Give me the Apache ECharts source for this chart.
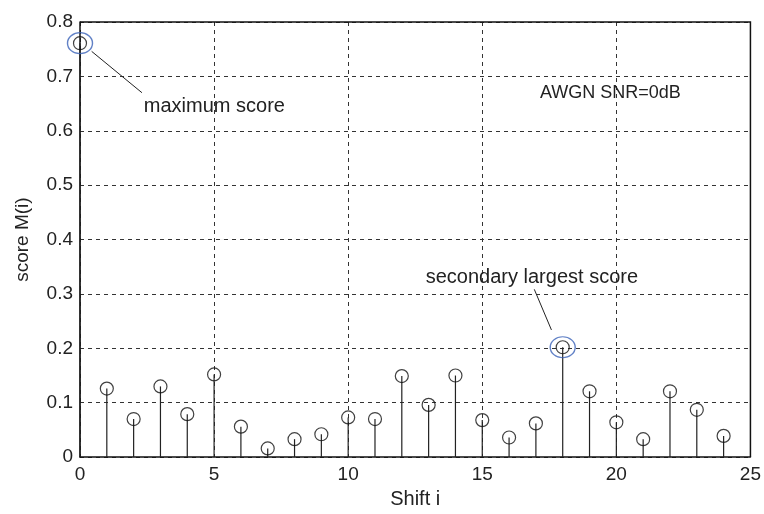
<!DOCTYPE html>
<html>
<head>
<meta charset="utf-8">
<script src="https://cdn.jsdelivr.net/npm/echarts@6/dist/echarts.min.js"></script>
<style>
  html, body { margin: 0; padding: 0; background: #fff; }
  #chart { width: 764px; height: 514px; }
</style>
</head>
<body>
<div id="chart"></div>
<script>
// shift index and score
const shifts = [0, 1, 2, 3, 4, 5, 6, 7, 8, 9, 10, 11, 12, 13, 14, 15, 16, 17, 18, 19, 20, 21, 22, 23, 24];
const scores = [0.761, 0.126, 0.070, 0.130, 0.079, 0.152, 0.056, 0.016, 0.033, 0.042, 0.073, 0.070,
                0.149, 0.096, 0.150, 0.068, 0.036, 0.062, 0.202, 0.121, 0.064, 0.033, 0.121, 0.087, 0.039];
const xTicks = [0, 5, 10, 15, 20, 25];
const yTicks = [0, 0.1, 0.2, 0.3, 0.4, 0.5, 0.6, 0.7, 0.8];

// highlighted points (circled in blue)
const marked = [[0, 0.761], [18, 0.202]];

const FONT = '"Liberation Sans", Arial, Helvetica, sans-serif';
const points = shifts.map((s, i) => [s, scores[i]]);

const chart = echarts.init(document.getElementById('chart'));

chart.setOption({
    animation: false,
    backgroundColor: '#fff',
    grid: { left: 80, right: 11, top: 22, bottom: 53 },
    xAxis: {
        type: 'value',
        min: xTicks[0],
        max: xTicks[xTicks.length - 1],
        interval: 5,
        name: 'Shift i',
        nameLocation: 'middle',
        nameGap: 27,
        nameTextStyle: { fontFamily: FONT, fontSize: 20, color: '#222' },
        axisLine: { show: true, onZero: false, lineStyle: { color: '#111', width: 1.5 } },
        axisTick: { show: false },
        axisLabel: { fontFamily: FONT, fontSize: 19, color: '#222', margin: 8 },
        splitLine: { show: true, lineStyle: { color: '#333', type: [4, 4], width: 1 } }
    },
    yAxis: {
        type: 'value',
        min: yTicks[0],
        max: yTicks[yTicks.length - 1],
        interval: 0.1,
        name: 'score M(i)',
        nameLocation: 'middle',
        nameGap: 48,
        nameTextStyle: { fontFamily: FONT, fontSize: 19, color: '#222' },
        axisLine: { show: true, lineStyle: { color: '#111', width: 1.5 } },
        axisTick: { show: false },
        axisLabel: { fontFamily: FONT, fontSize: 19, color: '#222', margin: 7,
                     formatter: v => (v === 0 ? '0' : v.toFixed(1)) },
        splitLine: { show: true, lineStyle: { color: '#333', type: [4, 4], width: 1 } }
    },
    series: [
        {
            // stems
            type: 'custom',
            data: points,
            renderItem: function (params, api) {
                const top = api.coord([api.value(0), api.value(1)]);
                const base = api.coord([api.value(0), 0]);
                return {
                    type: 'line',
                    shape: { x1: base[0], y1: base[1], x2: top[0], y2: top[1] },
                    style: { stroke: '#222', lineWidth: 1.2 }
                };
            },
            z: 3
        },
        {
            // stem heads
            type: 'scatter',
            data: points,
            symbol: 'circle',
            symbolSize: 13,
            itemStyle: { color: 'rgba(0,0,0,0)', borderColor: '#111', borderWidth: 1.2 },
            z: 4
        },
        {
            // blue ellipses
            type: 'scatter',
            data: marked,
            symbol: 'circle',
            symbolSize: [25, 21],
            itemStyle: { color: 'rgba(0,0,0,0)', borderColor: '#3a62b8', borderWidth: 1.3 },
            z: 5
        }
    ]
});

// frame (top / right edges of the box)
const tl = chart.convertToPixel('grid', [xTicks[0], yTicks[yTicks.length - 1]]);
const br = chart.convertToPixel('grid', [xTicks[xTicks.length - 1], yTicks[0]]);

// annotations placed in data space
function px(p) { return chart.convertToPixel('grid', p); }
const a1 = px([0.435, 0.746]), a2 = px([2.31, 0.670]);
const b1 = px([16.94, 0.3085]), b2 = px([17.58, 0.2338]);
const t1 = px([2.38, 0.6445]);
const t2 = px([16.85, 0.330]);
const t3 = px([17.15, 0.670]);

const textStyle = { fontFamily: FONT, fill: '#222', textVerticalAlign: 'middle' };

chart.setOption({
    graphic: [
        { type: 'polyline', silent: true, z: 10,
          shape: { points: [[tl[0], tl[1]], [br[0], tl[1]], [br[0], br[1]]] },
          style: { stroke: '#111', lineWidth: 1.5, fill: null } },
        { type: 'line', z: 10, shape: { x1: a1[0], y1: a1[1], x2: a2[0], y2: a2[1] },
          style: { stroke: '#222', lineWidth: 1 } },
        { type: 'line', z: 10, shape: { x1: b1[0], y1: b1[1], x2: b2[0], y2: b2[1] },
          style: { stroke: '#222', lineWidth: 1 } },
        { type: 'text', z: 10, x: t1[0], y: t1[1],
          style: Object.assign({ text: 'maximum score', fontSize: 20, textAlign: 'left' }, textStyle) },
        { type: 'text', z: 10, x: t2[0], y: t2[1],
          style: Object.assign({ text: 'secondary largest score', fontSize: 20, textAlign: 'center' }, textStyle) },
        { type: 'text', z: 10, x: t3[0], y: t3[1],
          style: Object.assign({ text: 'AWGN SNR=0dB', fontSize: 18, textAlign: 'left' }, textStyle) }
    ]
});
</script>
</body>
</html>
